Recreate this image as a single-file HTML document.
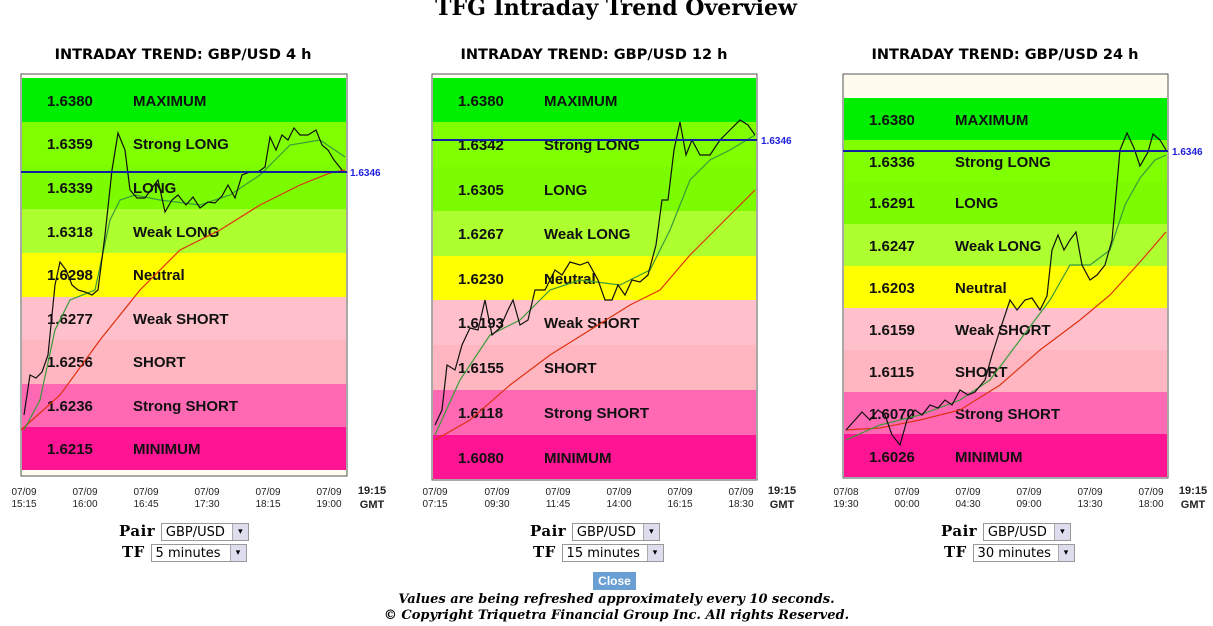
<!DOCTYPE html>
<html><head><meta charset="utf-8"><style>
body{margin:0;background:#fff;width:1213px;height:626px;overflow:hidden;position:relative;font-family:"Liberation Sans",sans-serif}
.ctl{position:absolute;font-family:"DejaVu Serif",serif;font-weight:bold;font-size:15px;letter-spacing:0.5px}
.sel{display:inline-block;vertical-align:middle;border:1px solid #999;height:18px;font:13px "DejaVu Sans",sans-serif;font-weight:normal;letter-spacing:0;line-height:18px;padding-left:4px;position:relative;background:#fff;box-sizing:border-box}
.sel b{position:absolute;right:0;top:0;width:15px;height:16px;background:#dde;border-left:1px solid #aaa;font-size:9px;text-align:center;line-height:16px}
.foot{position:absolute;width:1233px;text-align:center;font-family:"DejaVu Serif",serif;font-style:italic;font-weight:bold;font-size:13px}
</style></head><body>
<svg width="1213" height="626" style="position:absolute;left:0;top:0" font-family="Liberation Sans,sans-serif">
<text x="616" y="15" text-anchor="middle" font-family="DejaVu Serif,serif" font-weight="bold" font-size="22">TFG Intraday Trend Overview</text>
<g font-weight="bold" font-size="14.5" text-anchor="middle" font-family="DejaVu Sans,sans-serif">
<text x="183" y="59">INTRADAY TREND: GBP/USD 4 h</text>
<text x="594" y="59">INTRADAY TREND: GBP/USD 12 h</text>
<text x="1005" y="59">INTRADAY TREND: GBP/USD 24 h</text>
</g>
<!-- chart1 -->
<rect x="21" y="74" width="326" height="402" fill="#fffbee" stroke="#555"/>
<rect x="22" y="78" width="324" height="44" fill="#00ee00"/>
<rect x="22" y="122" width="324" height="43" fill="#7fff00"/>
<rect x="22" y="165" width="324" height="44" fill="#7cfc00"/>
<rect x="22" y="209" width="324" height="44" fill="#adff2f"/>
<rect x="22" y="253" width="324" height="44" fill="#ffff00"/>
<rect x="22" y="297" width="324" height="43" fill="#ffc0cb"/>
<rect x="22" y="340" width="324" height="44" fill="#ffb6c1"/>
<rect x="22" y="384" width="324" height="43" fill="#ff69b4"/>
<rect x="22" y="427" width="324" height="43" fill="#ff1493"/>
<g font-weight="bold" font-size="15" fill="#111">
<text x="47" y="106">1.6380</text><text x="133" y="106">MAXIMUM</text>
<text x="47" y="149">1.6359</text><text x="133" y="149">Strong LONG</text>
<text x="47" y="193">1.6339</text><text x="133" y="193">LONG</text>
<text x="47" y="237">1.6318</text><text x="133" y="237">Weak LONG</text>
<text x="47" y="280">1.6298</text><text x="133" y="280">Neutral</text>
<text x="47" y="324">1.6277</text><text x="133" y="324">Weak SHORT</text>
<text x="47" y="367">1.6256</text><text x="133" y="367">SHORT</text>
<text x="47" y="411">1.6236</text><text x="133" y="411">Strong SHORT</text>
<text x="47" y="454">1.6215</text><text x="133" y="454">MINIMUM</text>
</g>
<polyline fill="none" stroke="#e03010" stroke-width="1.2" points="21,430 60,395 100,340 140,290 180,250 220,230 260,205 300,185 330,173 345,170"/>
<polyline fill="none" stroke="#3a9a3a" stroke-width="1.2" points="24,430 40,400 55,330 70,300 95,290 110,220 120,200 135,195 160,200 200,205 230,195 260,175 290,145 320,140 345,157"/>
<polyline fill="none" stroke="#111" stroke-width="1.2" points="24,415 30,375 36,378 42,372 48,355 55,285 60,262 66,270 72,285 78,290 85,292 92,295 98,290 105,235 112,170 118,133 125,150 130,190 137,198 145,198 152,188 158,180 165,212 172,200 178,195 186,205 193,197 200,208 208,202 215,203 222,196 228,185 235,198 242,175 250,172 258,172 265,167 270,137 276,150 282,135 288,140 294,128 300,135 308,135 316,130 322,145 328,150 334,160 342,170"/>
<line x1="21" y1="172" x2="347" y2="172" stroke="#1020a0" stroke-width="2"/>
<text x="350" y="176" font-size="10" font-weight="bold" fill="#2020e0">1.6346</text>
<!-- chart2 -->
<rect x="432" y="74" width="325" height="406" fill="#fffbee" stroke="#555"/>
<rect x="433" y="78" width="323" height="44" fill="#00ee00"/>
<rect x="433" y="122" width="323" height="45" fill="#7fff00"/>
<rect x="433" y="167" width="323" height="44" fill="#7cfc00"/>
<rect x="433" y="211" width="323" height="45" fill="#adff2f"/>
<rect x="433" y="256" width="323" height="44" fill="#ffff00"/>
<rect x="433" y="300" width="323" height="45" fill="#ffc0cb"/>
<rect x="433" y="345" width="323" height="45" fill="#ffb6c1"/>
<rect x="433" y="390" width="323" height="45" fill="#ff69b4"/>
<rect x="433" y="435" width="323" height="44" fill="#ff1493"/>
<g font-weight="bold" font-size="15" fill="#111">
<text x="458" y="106">1.6380</text><text x="544" y="106">MAXIMUM</text>
<text x="458" y="150">1.6342</text><text x="544" y="150">Strong LONG</text>
<text x="458" y="195">1.6305</text><text x="544" y="195">LONG</text>
<text x="458" y="239">1.6267</text><text x="544" y="239">Weak LONG</text>
<text x="458" y="284">1.6230</text><text x="544" y="284">Neutral</text>
<text x="458" y="328">1.6193</text><text x="544" y="328">Weak SHORT</text>
<text x="458" y="373">1.6155</text><text x="544" y="373">SHORT</text>
<text x="458" y="418">1.6118</text><text x="544" y="418">Strong SHORT</text>
<text x="458" y="463">1.6080</text><text x="544" y="463">MINIMUM</text>
</g>
<polyline fill="none" stroke="#e03010" stroke-width="1.2" points="435,440 470,420 510,385 550,355 590,330 630,305 660,290 690,255 720,225 755,190"/>
<polyline fill="none" stroke="#3a9a3a" stroke-width="1.2" points="435,435 460,380 490,335 520,320 550,290 580,280 620,285 650,270 670,230 690,180 710,160 730,150 755,135"/>
<polyline fill="none" stroke="#111" stroke-width="1.2" points="435,425 442,410 447,365 455,370 462,345 470,328 478,330 485,300 492,335 500,328 508,310 513,300 520,325 528,320 535,290 545,290 555,270 562,275 570,262 580,265 588,262 598,280 605,300 612,300 618,285 625,295 632,280 640,282 648,275 656,245 662,200 668,200 674,150 680,122 686,155 692,140 700,155 710,155 720,140 730,130 740,120 748,125 755,135"/>
<line x1="432" y1="140" x2="757" y2="140" stroke="#1020a0" stroke-width="2"/>
<text x="761" y="144" font-size="10" font-weight="bold" fill="#2020e0">1.6346</text>
<!-- chart3 -->
<rect x="843" y="74" width="325" height="404" fill="#fffbee" stroke="#555"/>
<rect x="844" y="98" width="323" height="42" fill="#00ee00"/>
<rect x="844" y="140" width="323" height="42" fill="#7fff00"/>
<rect x="844" y="182" width="323" height="42" fill="#7cfc00"/>
<rect x="844" y="224" width="323" height="42" fill="#adff2f"/>
<rect x="844" y="266" width="323" height="42" fill="#ffff00"/>
<rect x="844" y="308" width="323" height="42" fill="#ffc0cb"/>
<rect x="844" y="350" width="323" height="42" fill="#ffb6c1"/>
<rect x="844" y="392" width="323" height="42" fill="#ff69b4"/>
<rect x="844" y="434" width="323" height="43" fill="#ff1493"/>
<g font-weight="bold" font-size="15" fill="#111">
<text x="869" y="125">1.6380</text><text x="955" y="125">MAXIMUM</text>
<text x="869" y="167">1.6336</text><text x="955" y="167">Strong LONG</text>
<text x="869" y="208">1.6291</text><text x="955" y="208">LONG</text>
<text x="869" y="251">1.6247</text><text x="955" y="251">Weak LONG</text>
<text x="869" y="293">1.6203</text><text x="955" y="293">Neutral</text>
<text x="869" y="335">1.6159</text><text x="955" y="335">Weak SHORT</text>
<text x="869" y="377">1.6115</text><text x="955" y="377">SHORT</text>
<text x="869" y="419">1.6070</text><text x="955" y="419">Strong SHORT</text>
<text x="869" y="462">1.6026</text><text x="955" y="462">MINIMUM</text>
</g>
<polyline fill="none" stroke="#e03010" stroke-width="1.2" points="846,430 880,428 920,420 960,410 1000,385 1040,350 1080,320 1110,295 1140,262 1166,232"/>
<polyline fill="none" stroke="#3a9a3a" stroke-width="1.2" points="846,440 880,425 920,415 960,400 990,380 1020,340 1050,300 1070,265 1090,265 1110,250 1125,205 1140,178 1155,160 1166,155"/>
<polyline fill="none" stroke="#111" stroke-width="1.2" points="846,430 855,420 862,412 870,420 878,410 885,415 892,435 900,445 907,420 915,410 922,415 930,405 938,408 945,400 952,405 960,390 968,395 975,392 985,380 992,355 1000,330 1010,300 1017,310 1025,300 1032,298 1040,310 1047,296 1052,250 1058,235 1064,250 1070,240 1076,232 1082,265 1090,280 1097,275 1105,265 1112,240 1120,150 1127,133 1134,148 1140,166 1148,152 1153,134 1160,140 1166,150"/>
<line x1="843" y1="151" x2="1168" y2="151" stroke="#1020a0" stroke-width="2"/>
<text x="1172" y="155" font-size="10" font-weight="bold" fill="#2020e0">1.6346</text>
<!-- axes -->
<g font-size="10" fill="#222" text-anchor="middle">
<text x="24" y="495">07/09</text><text x="24" y="507">15:15</text>
<text x="85" y="495">07/09</text><text x="85" y="507">16:00</text>
<text x="146" y="495">07/09</text><text x="146" y="507">16:45</text>
<text x="207" y="495">07/09</text><text x="207" y="507">17:30</text>
<text x="268" y="495">07/09</text><text x="268" y="507">18:15</text>
<text x="329" y="495">07/09</text><text x="329" y="507">19:00</text>
<text x="435" y="495">07/09</text><text x="435" y="507">07:15</text>
<text x="497" y="495">07/09</text><text x="497" y="507">09:30</text>
<text x="558" y="495">07/09</text><text x="558" y="507">11:45</text>
<text x="619" y="495">07/09</text><text x="619" y="507">14:00</text>
<text x="680" y="495">07/09</text><text x="680" y="507">16:15</text>
<text x="741" y="495">07/09</text><text x="741" y="507">18:30</text>
<text x="846" y="495">07/08</text><text x="846" y="507">19:30</text>
<text x="907" y="495">07/09</text><text x="907" y="507">00:00</text>
<text x="968" y="495">07/09</text><text x="968" y="507">04:30</text>
<text x="1029" y="495">07/09</text><text x="1029" y="507">09:00</text>
<text x="1090" y="495">07/09</text><text x="1090" y="507">13:30</text>
<text x="1151" y="495">07/09</text><text x="1151" y="507">18:00</text>
</g>
<g font-size="11" font-weight="bold" fill="#222" text-anchor="middle">
<text x="372" y="494">19:15</text><text x="372" y="508">GMT</text>
<text x="782" y="494">19:15</text><text x="782" y="508">GMT</text>
<text x="1193" y="494">19:15</text><text x="1193" y="508">GMT</text>
</g>
</svg>
<div class="ctl" style="left:119px;top:522px">Pair <span class="sel" style="width:88px">GBP/USD<b>▾</b></span></div>
<div class="ctl" style="left:122px;top:543px">TF <span class="sel" style="width:96px">5 minutes<b>▾</b></span></div>
<div class="ctl" style="left:530px;top:522px">Pair <span class="sel" style="width:88px">GBP/USD<b>▾</b></span></div>
<div class="ctl" style="left:533px;top:543px">TF <span class="sel" style="width:102px">15 minutes<b>▾</b></span></div>
<div class="ctl" style="left:941px;top:522px">Pair <span class="sel" style="width:88px">GBP/USD<b>▾</b></span></div>
<div class="ctl" style="left:944px;top:543px">TF <span class="sel" style="width:102px">30 minutes<b>▾</b></span></div>
<div style="position:absolute;left:593px;top:572px;width:43px;height:18px;background:#6a9fd4;color:#fff;font:bold 12px 'Liberation Sans',sans-serif;text-align:center;line-height:18px">Close</div>
<div class="foot" style="top:592px">Values are being refreshed approximately every 10 seconds.</div>
<div class="foot" style="top:608px">© Copyright Triquetra Financial Group Inc. All rights Reserved.</div>
</body></html>
